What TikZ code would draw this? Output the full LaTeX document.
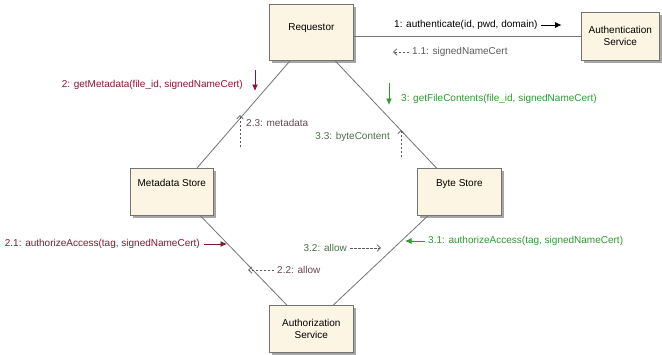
\documentclass[tikz,border=0pt]{standalone}
\usepackage{fontspec}
\setmainfont{Liberation Sans}
\usetikzlibrary{arrows.meta,positioning,calc,shadows}
\definecolor{objfill}{HTML}{FDF5E4}
\definecolor{callred}{HTML}{8A1530}
\definecolor{callgreen}{HTML}{2E9A2E}
\definecolor{retgray}{HTML}{5A5A5A}
\colorlet{retred}{callred!30!retgray}
\colorlet{retgreen}{callgreen!35!retgray}

\begin{document}
\begin{tikzpicture}[
  x=1pt,
  y=-1pt,
  font=\fontsize{10}{12}\selectfont,
  >=Latex,
  link/.style={line width=0.8pt, draw=black!55},
  objbox/.style={draw=black!55, fill=objfill, line width=0.7pt, anchor=north west,
    drop shadow={shadow xshift=2.5pt, shadow yshift=-2.5pt, fill=black!35, opacity=1},
    align=center, inner xsep=2pt},
  msg/.style={inner sep=0pt, anchor=west},
  call/.style={-{Latex[length=6.5pt,width=6pt]}, line width=0.8pt},
  reply/.style={-{Straight Barb[length=3.5pt,width=6.5pt]}, dash pattern=on 2.5pt off 1.5pt,
    line width=0.7pt, draw=retgray}
]
\useasboundingbox (0,0) rectangle (662,354);

% objects
\node[objbox, minimum width=84pt, inner ysep=19pt, text height=7.5pt, text depth=10.5pt]
  (req) at (269,4) {Requestor};
\node[objbox, minimum width=78pt, minimum height=48pt]
  (authn) at (581,12) {Authentication\\Service};
\node[objbox, minimum width=83pt, inner ysep=11pt, text height=7.5pt, text depth=17.5pt]
  (meta) at (130,168) {Metadata Store};
\node[objbox, minimum width=84pt, inner ysep=11pt, text height=7.5pt, text depth=17.5pt]
  (byte) at (417,168) {Byte Store};
\node[objbox, minimum width=84pt, minimum height=47pt]
  (authz) at (269,305) {Authorization\\Service};

% links
\draw[link] (req.east |- authn.west) -- (authn.west);
\draw[link] ($(req.south west)!0.25!(req.south east)$) -- ($(meta.north west)!0.8!(meta.north east)$);
\draw[link] ($(req.south west)!0.78!(req.south east)$) -- ($(byte.north west)!0.23!(byte.north east)$);
\draw[link] ($(meta.south west)!0.84!(meta.south east)$) -- ($(authz.north west)!0.21!(authz.north east)$);
\draw[link] ($(byte.south west)!0.13!(byte.south east)$) -- ($(authz.north west)!0.76!(authz.north east)$);

% messages
\node[msg] (m1) at (394,25) {1: authenticate(id, pwd, domain)};
\draw[call] ([xshift=3pt]m1.east) -- ++(21,0);
\node[msg, text=retgray] (m11) at (412,52) {1.1: signedNameCert};
\draw[reply] ([xshift=-3pt]m11.west) -- ++(-16,0);

\node[msg, anchor=east, text=callred] (m2) at (243,85) {2: getMetadata(file\_id, signedNameCert)};
\draw[call, color=callred] ([xshift=12pt,yshift=15pt]m2.east) -- ++(0,21);
\node[msg, text=retred] (m23) at (246,123) {2.3: metadata};
\draw[reply] ([xshift=-6pt,yshift=-24pt]m23.west) -- ++(0,-32);
\node[msg, anchor=east, text=callred] (m21) at (200,244) {2.1: authorizeAccess(tag, signedNameCert)};
\draw[call, color=callred] ([xshift=4pt]m21.east) -- ++(23,0);
\node[msg, text=retred] (m22) at (277,270) {2.2: allow};
\draw[reply] ([xshift=-3pt]m22.west) -- ++(-26,0);

\node[msg, text=callgreen] (m3) at (401,99) {3: getFileContents(file\_id, signedNameCert)};
\draw[call, color=callgreen] ([xshift=-12pt,yshift=16pt]m3.west) -- ++(0,22);
\node[msg, anchor=east, text=retgreen] (m33) at (390,137) {3.3: byteContent};
\draw[reply] ([xshift=11pt,yshift=-20pt]m33.east) -- ++(0,-27);
\node[msg, text=callgreen] (m31) at (428,241) {3.1: authorizeAccess(tag, signedNameCert)};
\draw[call, color=callgreen] ([xshift=-3pt]m31.west) -- ++(-20,0);
\node[msg, anchor=east, text=retgreen] (m32) at (347,248) {3.2: allow};
\draw[reply] ([xshift=3pt]m32.east) -- ++(31,0);

\end{tikzpicture}
\end{document}
